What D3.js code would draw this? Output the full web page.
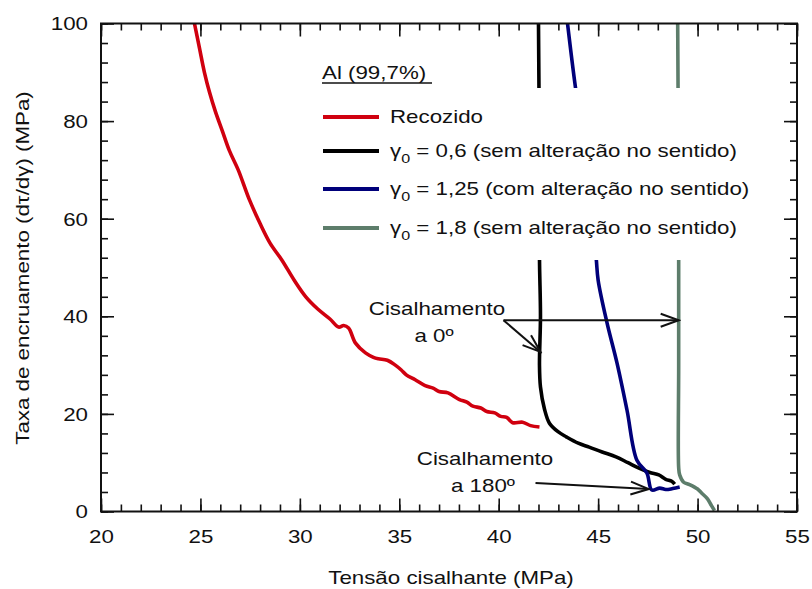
<!DOCTYPE html>
<html>
<head>
<meta charset="utf-8">
<script src="https://cdn.jsdelivr.net/npm/d3@7"></script>
<style>
body { margin: 0; background: #fff; }
text { font-family: "Liberation Sans", Arial, sans-serif; fill: #111; }
</style>
</head>
<body>
<script>
var width = 812,
    height = 589;

// values: [shear stress (MPa), hardening rate (MPa)]
var recozido = [[24.7,100],[24.95,95],[25.2,90],[25.45,86],[25.75,82],[26.1,78],[26.45,74],[26.9,70],
    [27.45,64],[28.0,59],[28.5,55],[29.1,51.5],[29.7,47.5],[30.3,44],[30.9,41.5],[31.5,39.5],[31.95,37.8],
    [32.2,38.1],[32.45,37.6],[32.8,34.5],[33.3,32.5],[33.7,31.6],[33.95,31.3],[34.4,31],[34.8,30],[35.1,29],
    [35.35,28],[35.8,27],[36.3,25.8],[36.7,25.3],[37,24.6],[37.45,24.3],[38,23],[38.4,22.4],[38.7,21.6],
    [39.1,21.2],[39.4,20.5],[39.8,20.2],[40.1,19.5],[40.4,19.3],[40.7,18.2],[41.2,18.3],[41.6,17.6],[42.05,17.3]];
var gama06 = [[42.0,100],[42.05,70],[42.05,52],[42.1,40],[42.05,30],[42.1,25.5],[42.3,21],[42.55,18.1],
    [43.0,16.3],[43.4,15.3],[44.0,14.0],[44.55,13.2],[45.2,12.2],[45.9,11.2],[46.5,10.0],[47.05,8.9],
    [47.6,8.0],[48.05,7.5],[48.4,6.6],[48.7,6.2],[48.85,5.6]];
var gama125 = [[43.46,100],[43.87,86.6],[44.2,78],[44.5,68],[44.9,52],[45.0,47.4],[45.45,38.6],[45.95,30.4],
    [46.45,20.8],[46.95,10.5],[47.45,7.9],[47.7,4.4],[48.1,4.8],[48.4,4.5],[48.75,4.7],[49.1,5.0]];
var gama18 = [[49.0,100],[49.05,60],[49.05,30],[49.05,9],[49.1,7.5],[49.3,6],[49.6,5.5],[50.0,4.6],
    [50.2,3.8],[50.5,2.6],[50.7,1.2],[50.85,0.2]];

var seriesNames = ["Recozido", "= 0,6 (sem alteração no sentido)", "= 1,25 (com alteração no sentido)", "= 1,8 (sem alteração no sentido)"];
var seriesColors = ["#d0000f", "#000000", "#00007a", "#5d7d6b"];
var seriesData = [recozido, gama06, gama125, gama18];

var xTicks = [20, 25, 30, 35, 40, 45, 50, 55];
var yTicks = [0, 20, 40, 60, 80, 100];

// annotation arrows, in data units: [x1, y1, x2, y2]
var arrows = [[40.24, 39.2, 49.05, 39.2], [40.24, 39.2, 42.1, 32.7], [41.85, 5.84, 47.54, 4.6]];

var stretch = 1.24;   // the original font is wider than Arial

var svg = d3.select("body").append("svg")
    .attr("width", width)
    .attr("height", height);

var plotLeft = 101, plotRight = 797, plotTop = 23.5, plotBottom = 511.5;

var x = d3.scaleLinear().domain([20, 55]).range([plotLeft, plotRight]);
var y = d3.scaleLinear().domain([0, 100]).range([plotBottom, plotTop]);

// ticks on all four sides, pointing inwards
function ticks(axis, tx, ty, values, size, labels) {
    var g = svg.append("g")
        .attr("transform", "translate(" + tx + "," + ty + ")")
        .call(axis.tickValues(values).tickSize(-size)
            .tickFormat(labels ? d3.format("d") : ""));
    g.select(".domain").remove();
    g.selectAll(".tick line").attr("stroke", "#111").attr("stroke-width", 1.6);
    return g;
}
ticks(d3.axisBottom(x), 0, plotBottom, d3.range(20, 55.1, 1), 7, false);
ticks(d3.axisTop(x), 0, plotTop, d3.range(20, 55.1, 1), 7, false);
ticks(d3.axisTop(x), 0, plotTop, xTicks, 13, false);
ticks(d3.axisLeft(y), plotLeft, 0, d3.range(0, 100.1, 4), 7, false);
ticks(d3.axisRight(y), plotRight, 0, d3.range(0, 100.1, 4), 7, false);
ticks(d3.axisRight(y), plotRight, 0, yTicks, 13, false);

var xAxis = ticks(d3.axisBottom(x), 0, plotBottom, xTicks, 13, true);
xAxis.selectAll("text")
    .attr("y", 19).attr("dy", "0.71em")
    .attr("font-size", 18).attr("fill", "#111")
    .attr("transform", "scale(" + stretch + ",1)");

var yAxis = ticks(d3.axisLeft(y), plotLeft, 0, yTicks, 13, true);
yAxis.selectAll("text")
    .attr("x", -13 / stretch).attr("dy", "0.36em")
    .attr("font-size", 18).attr("fill", "#111")
    .attr("transform", "scale(" + stretch + ",1)");

// axis titles
svg.append("text")
    .attr("transform", "translate(451,584) scale(" + stretch + ",1)")
    .attr("text-anchor", "middle")
    .attr("font-size", 18)
    .text("Tensão cisalhante (MPa)");

svg.append("text")
    .attr("transform", "translate(29,268) rotate(-90) scale(" + stretch + ",1)")
    .attr("text-anchor", "middle")
    .attr("font-size", 18)
    .text("Taxa de encruamento (dτ/dγ) (MPa)");

// curves
svg.append("clipPath").attr("id", "plot")
    .append("rect").attr("x", plotLeft).attr("y", plotTop)
    .attr("width", plotRight - plotLeft).attr("height", plotBottom - plotTop);

var line = d3.line()
    .curve(d3.curveCatmullRom.alpha(0.5))
    .x(function (d) { return x(d[0]); })
    .y(function (d) { return y(d[1]); });

svg.append("g").attr("clip-path", "url(#plot)")
    .selectAll("path")
    .data(seriesData)
    .enter()
    .append("path")
    .attr("d", line)
    .attr("fill", "none")
    .attr("stroke", function (d, i) { return seriesColors[i]; })
    .attr("stroke-width", 3.6)
    .attr("stroke-linejoin", "round");

// legend, with a white box that hides the curves behind it
svg.append("rect")
    .attr("x", 315).attr("y", 88)
    .attr("width", 450).attr("height", 172)
    .attr("fill", "#fff");

svg.append("text")
    .attr("transform", "translate(322,79) scale(" + stretch + ",1)")
    .attr("font-size", 18)
    .text("Al (99,7%)");
svg.append("line")
    .attr("x1", 322).attr("x2", 432).attr("y1", 83).attr("y2", 83)
    .attr("stroke", "#111").attr("stroke-width", 1.5);

var legendY = [117, 151, 189, 228];
var legend = svg.selectAll(".legend")
    .data(seriesNames)
    .enter()
    .append("g")
    .attr("class", "legend")
    .attr("transform", function (d, i) { return "translate(0," + legendY[i] + ")"; });

legend.append("line")
    .attr("x1", 323).attr("x2", 379)
    .attr("stroke", function (d, i) { return seriesColors[i]; })
    .attr("stroke-width", 4);

var legendText = legend.append("text")
    .attr("transform", "translate(390,6) scale(" + stretch + ",1)")
    .attr("font-size", 18);
legendText.each(function (d, i) {
    var t = d3.select(this);
    if (i === 0) {
        t.text(d);
    } else {
        t.append("tspan").text("γ");
        t.append("tspan").attr("font-size", 13).attr("dy", 6).text("0");
        t.append("tspan").attr("dy", -6).text(" " + d);
    }
});

// annotations
svg.append("defs").append("marker")
    .attr("id", "head")
    .attr("viewBox", "-20 -8 22 16")
    .attr("refX", 0).attr("refY", 0)
    .attr("markerWidth", 22).attr("markerHeight", 16)
    .attr("markerUnits", "userSpaceOnUse")
    .attr("orient", "auto")
    .append("path")
    .attr("d", "M-18,-6.5L0,0L-18,6.5")
    .attr("fill", "none")
    .attr("stroke", "#111")
    .attr("stroke-width", 2);

svg.selectAll(".arrow")
    .data(arrows)
    .enter()
    .append("line")
    .attr("class", "arrow")
    .attr("x1", function (d) { return x(d[0]); })
    .attr("y1", function (d) { return y(d[1]); })
    .attr("x2", function (d) { return x(d[2]); })
    .attr("y2", function (d) { return y(d[3]); })
    .attr("stroke", "#111")
    .attr("stroke-width", 2)
    .attr("marker-end", "url(#head)");

var notes = [["Cisalhamento", 437, 315], ["a 0º", 434, 342], ["Cisalhamento", 485, 465], ["a 180º", 483, 492]];
svg.selectAll(".note")
    .data(notes)
    .enter()
    .append("text")
    .attr("class", "note")
    .attr("transform", function (d) { return "translate(" + d[1] + "," + d[2] + ") scale(" + stretch + ",1)"; })
    .attr("text-anchor", "middle")
    .attr("font-size", 18)
    .text(function (d) { return d[0]; });

// frame
svg.append("rect")
    .attr("x", plotLeft).attr("y", plotTop)
    .attr("width", plotRight - plotLeft).attr("height", plotBottom - plotTop)
    .attr("fill", "none")
    .attr("stroke", "#111")
    .attr("stroke-width", 2);
</script>
</body>
</html>
